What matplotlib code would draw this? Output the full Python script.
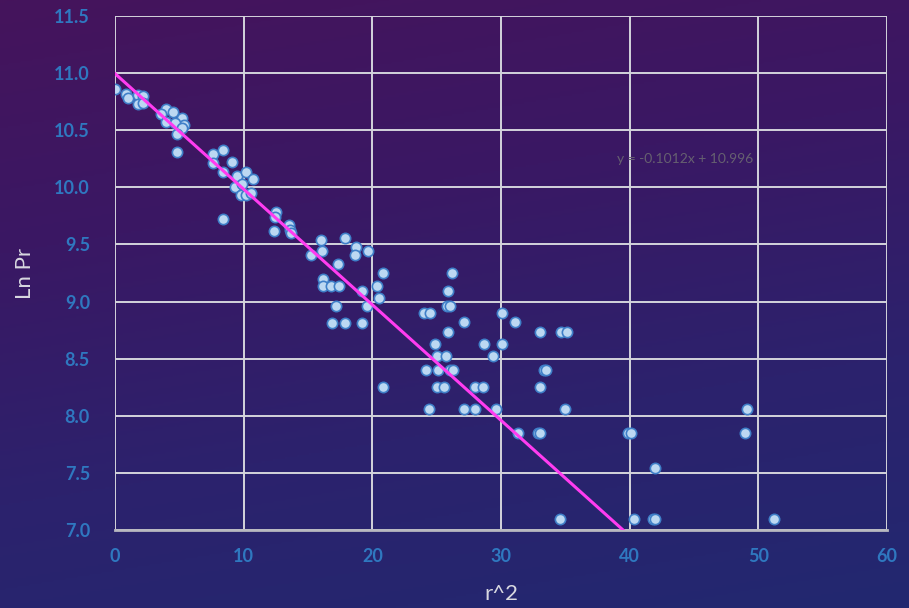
import numpy as np
import matplotlib
matplotlib.use("Agg")
import matplotlib.pyplot as plt
from matplotlib.colors import LinearSegmentedColormap

# Observations: squared radius vs. natural log of pressure
r2 = [0.0, 0.85, 1.04, 1.8, 2.2, 1.8, 2.2, 4.0, 4.5, 3.6, 5.2, 5.4, 4.0, 4.7, 5.2,
      4.8, 4.8, 7.6, 8.4, 7.6, 9.1, 8.4, 9.45, 10.2, 10.7, 9.3, 9.85, 9.8, 10.2,
      10.6, 8.4,
      12.5, 12.4, 13.5, 13.6, 13.7, 12.35, 16.0, 17.9, 18.7, 18.65, 19.7, 16.1,
      15.2, 17.3, 20.85, 16.2, 16.2, 16.8, 17.4, 20.4, 19.2, 20.5, 17.2, 19.55,
      16.9, 17.9, 19.2, 20.8,
      26.2, 25.9, 25.8, 26.0, 24.0, 24.5, 30.1, 27.1, 31.1, 25.85, 33.0, 34.7,
      35.1, 24.9, 28.7, 30.05, 25.0, 25.7, 29.4, 24.2, 25.1, 26.0, 26.3, 33.35,
      33.5, 25.0, 25.6, 28.0, 28.6, 33.0, 24.4, 27.1, 28.0, 29.6, 35.0, 31.3,
      32.9, 33.0,
      49.1, 39.9, 40.1, 48.95, 42.0, 34.6, 40.3, 41.8, 41.95, 51.2]
ln_pr = [10.86, 10.82, 10.78, 10.81, 10.80, 10.73, 10.74, 10.69, 10.66, 10.64,
         10.61, 10.55, 10.57, 10.56, 10.52, 10.47, 10.31, 10.29, 10.33, 10.21,
         10.22, 10.13, 10.10, 10.13, 10.07, 10.00, 10.03, 9.93, 9.93, 9.95, 9.72,
         9.78, 9.74, 9.67, 9.63, 9.60, 9.62, 9.54, 9.56, 9.48, 9.41, 9.44, 9.44,
         9.41, 9.33, 9.25, 9.20, 9.14, 9.14, 9.14, 9.14, 9.09, 9.03, 8.96, 8.96,
         8.81, 8.81, 8.81, 8.25,
         9.25, 9.09, 8.96, 8.96, 8.90, 8.90, 8.90, 8.82, 8.82, 8.73, 8.73, 8.73,
         8.73, 8.63, 8.63, 8.63, 8.52, 8.52, 8.52, 8.40, 8.40, 8.40, 8.40, 8.40,
         8.40, 8.25, 8.25, 8.25, 8.25, 8.25, 8.06, 8.06, 8.06, 8.06, 8.06, 7.85,
         7.85, 7.85,
         8.06, 7.85, 7.85, 7.85, 7.54, 7.10, 7.10, 7.10, 7.10, 7.10]

# Linear trendline
slope = -0.1012
intercept = 10.996

x_ticks = [0, 10, 20, 30, 40, 50, 60]
y_ticks = [7.0, 7.5, 8.0, 8.5, 9.0, 9.5, 10.0, 10.5, 11.0, 11.5]

plt.rcParams['font.family'] = ['Lato', 'DejaVu Sans']

fig = plt.figure(figsize=(9.09, 6.08), dpi=100)

# Purple-to-navy background, mostly top to bottom
bg = fig.add_axes([0, 0, 1, 1], zorder=-10)
h, w = 304, 455
yy, xx = np.mgrid[0:h, 0:w]
t = 0.8 * (yy / h) + 0.2 * (xx / w)
cmap = LinearSegmentedColormap.from_list(
    "bg", ["#45145c", "#3a1864", "#2c226d", "#222870"])
bg.imshow(t, cmap=cmap, aspect='auto', extent=[0, 1, 0, 1], origin='upper',
          interpolation='bilinear')
bg.set_axis_off()

ax = fig.add_axes([0.1265, 0.1283, 0.8493, 0.8454])
ax.set_facecolor('none')
ax.set_xlim(0, 60)
ax.set_ylim(7.0, 11.5)
ax.set_xticks(x_ticks)
ax.set_yticks(y_ticks)
ax.set_yticklabels([f"{v:.1f}" for v in y_ticks])
ax.grid(True, color='#d4d4dc', linewidth=1.4, zorder=0)
for s in ['top', 'right', 'left']:
    ax.spines[s].set_visible(False)
ax.spines['bottom'].set_color('#b8b8c0')
ax.spines['bottom'].set_linewidth(2)
ax.tick_params(axis='both', length=0, labelcolor='#2f78c0', labelsize=13)
ax.tick_params(axis='y', pad=18)
ax.tick_params(axis='x', pad=13)
for lbl in ax.get_xticklabels() + ax.get_yticklabels():
    lbl.set_fontweight('bold')

ax.scatter(r2, ln_pr, s=55, facecolor='#bcd8f2', edgecolor='#3f7fc8',
           linewidth=1.2, zorder=3)

xl = np.array([0, max(r2)])
ax.plot(xl, slope * xl + intercept, color='#ff3cf0', linewidth=2.2, zorder=4,
        clip_on=True)

ax.text(44.3, 10.25, f"y = {slope}x + {intercept}", color='#666070',
        fontsize=10, ha='center', va='center', zorder=5)

ax.set_xlabel("r^2", color='#d8d8e0', fontsize=16, labelpad=14)
ax.set_ylabel("Ln Pr", color='#d8d8e0', fontsize=16, labelpad=14)

fig.savefig("out.png", dpi=100)
